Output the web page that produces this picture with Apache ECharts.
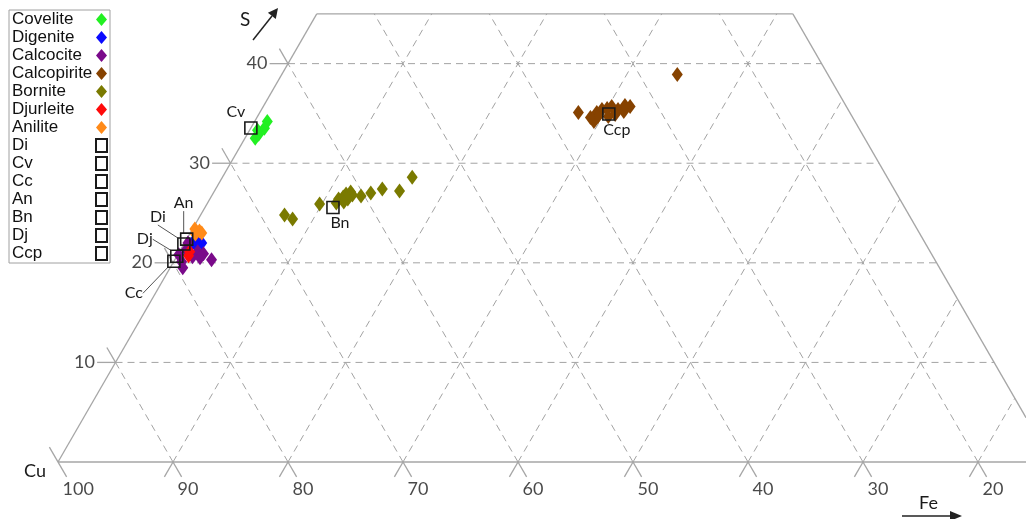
<!DOCTYPE html>
<html><head><meta charset="utf-8">
<script src="https://cdn.jsdelivr.net/npm/echarts@6/dist/echarts.min.js"></script>
<style>html,body{margin:0;padding:0;background:#fff}#c{width:1026px;height:519px}</style>
</head><body><div id="c"></div>
<script>
// ---------- DATA (wt%, each point = [Fe, S]; Cu = 100 - Fe - S) ----------
const covelite    = [[1.1,34.2],[1.2,33.5],[1.0,32.9],[0.9,32.5],[0.7,33.3]];
const digenite    = [[1.1,22.1],[0.7,22.0],[1.5,22.0],[1.1,21.8]];
const calcocite   = [[0.1,20.8],[1.6,21.1],[2.2,20.9],[3.2,20.3],[1.4,20.6],[1.1,19.5],[0.5,21.3],[0.7,20.1],[2.1,20.5],[0.3,22.0]];
const calcopirite = [[27.7,35.1],[34.4,38.9],[29.3,35.1],[29.6,35.4],[30.0,35.5],[30.3,35.7],[31.0,35.4],[31.6,35.2],[31.9,35.7],[29.5,34.2],[29.6,34.7],[31.0,34.9],[30.5,34.7],[31.4,35.8],[29.0,34.6]];
const bornite     = [[7.3,24.8],[8.2,24.4],[9.8,25.9],[11.2,26.4],[11.5,26.6],[11.6,26.9],[11.9,27.1],[12.2,26.8],[12.0,26.4],[11.8,26.1],[11.2,26.0],[13.0,26.7],[13.7,27.0],[14.5,27.4],[16.1,27.2],[16.5,28.6]];
const djurleite   = [[1.0,20.7],[0.9,21.1]];
const anilite     = [[0.2,23.4],[0.7,23.2],[0.5,22.9],[1.0,23.0]];
const mineralNames = ['Covelite','Digenite','Calcocite','Calcopirite','Bornite','Djurleite','Anilite'];
const mineralData  = [covelite, digenite, calcocite, calcopirite, bornite, djurleite, anilite];

// ideal compositions (reference squares)
const refNames = ['Di','Cv','Cc','An','Bn','Dj','Ccp'];
const refFe    = [0, 0, 0, 0, 11.13, 0, 30.43];
const refS     = [21.89, 33.54, 20.15, 22.38, 25.56, 20.66, 34.94];

// tick labels
const cuTicks = [100,90,80,70,60,50,40,30,20];
const sTicks  = [10,20,30,40];

// ---------- STYLE / LAYOUT ----------
const mineralColors = ['#22f022','#0a0aff','#7a0a8a','#864200','#7a7a00','#ff0a0a','#ff8a18'];
const refLabelLayout = {
  Di:{dx:-26,dy:-27,line:true}, Cv:{dx:-15,dy:-16,line:false}, Cc:{dx:-40,dy:32,line:true},
  An:{dx:-3,dy:-36,line:true}, Bn:{dx:7,dy:15,line:false}, Dj:{dx:-32,dy:-17,line:true},
  Ccp:{dx:8,dy:16,line:false}
};
const PXU = 11.5;                     // px per 1 wt% along a side
const VU  = PXU*Math.sqrt(3)/2;       // px per 1 wt% S vertically
const W=1026, H=519, OX=58, OY=462;   // Cu vertex position
const S_TOP = 45, CU_RIGHT = 13.6;    // truncation of the diagram
const X_MIN = -OX/PXU, X_MAX = (W-OX)/PXU, Y_MIN = -(H-OY)/VU, Y_MAX = OY/VU;
const xy = (fe, s) => [fe + s/2, s];
const RC = 100 - CU_RIGHT;            // Fe + S on the right boundary line

// ---------- structure lines ----------
const solidSegs = [
  [xy(0,0), [X_MAX,0]],
  [xy(0,0), xy(0,S_TOP)],
  [xy(0,S_TOP), xy(RC-S_TOP,S_TOP)],
  [xy(RC-S_TOP,S_TOP), [X_MAX, 2*(RC-X_MAX)]]
];
const dashSegs = [];
cuTicks.forEach(c => {
  const fe = 100 - c;
  if (c === 100) { solidSegs.push([[-0.75,1.5],[0.75,-1.5]]); return; }
  solidSegs.push([[fe,0],[fe-0.75,-1.5]]);
  solidSegs.push([[fe,0],[fe+0.75,-1.5]]);
  const sEndFe = Math.min(S_TOP, RC - fe);
  dashSegs.push([xy(fe,0), xy(fe,sEndFe)]);
  const sEndCu = Math.min(S_TOP, 100 - c);
  dashSegs.push([xy(fe,0), xy(100-c-sEndCu, sEndCu)]);
});
sTicks.forEach(s => {
  solidSegs.push([[s/2-1.6, s], xy(0,s)]);
  solidSegs.push([xy(0,s), [s/2-0.75, s+1.5]]);
  dashSegs.push([xy(0,s), [RC - s/2, s]]);
});

const series = [];
solidSegs.forEach(p => series.push({type:'line', data:p, symbol:'none', silent:true, z:1,
  lineStyle:{color:'#a6a6a6', width:1.3}}));
dashSegs.forEach(p => series.push({type:'line', data:p, symbol:'none', silent:true, z:1,
  lineStyle:{color:'#a3a3a3', width:1, type:[7,5]}}));

// tick labels through the same scales
series.push({type:'scatter', silent:true, z:2, symbolSize:1, itemStyle:{color:'rgba(0,0,0,0)'},
  data: cuTicks.map(c => [100-c, 0, c]),
  label:{show:true, formatter:p=>String(p.value[2]), position:[5,19], align:'left', verticalAlign:'top',
    fontFamily:'Lato', fontSize:18, color:'#1a1a1a'}});
series.push({type:'scatter', silent:true, z:2, symbolSize:1, itemStyle:{color:'rgba(0,0,0,0)'},
  data: sTicks.map(s => [s/2, s, s]),
  label:{show:true, formatter:p=>String(p.value[2]), position:[-20,0], align:'right', verticalAlign:'middle',
    fontFamily:'Lato', fontSize:18, color:'#1a1a1a'}});

mineralNames.forEach((n,i) => series.push({
  name:n, type:'scatter', z:3, symbol:'diamond', symbolSize:[11,15],
  itemStyle:{color:mineralColors[i], opacity:1},
  data: mineralData[i].map(d => xy(d[0], d[1]))
}));

refNames.forEach((n,i) => {
  const L = refLabelLayout[n];
  series.push({
    name:n, type:'scatter', z:5, symbol:'rect', symbolSize:12,
    itemStyle:{color:'rgba(255,255,255,0)', borderColor:'#1a1a1a', borderWidth:1.6, opacity:1},
    data:[xy(refFe[i], refS[i])],
    label:{show:true, formatter:n, position:'inside', fontFamily:'Lato', fontSize:16, color:'#1a1a1a'},
    labelLayout:{dx:L.dx, dy:L.dy},
    labelLine:{show:L.line, lineStyle:{color:'#555', width:1}}
  });
});

const chart = echarts.init(document.getElementById('c'), null, {renderer:'canvas'});
chart.setOption({
  animation:false,
  backgroundColor:'#fff',
  grid:{left:0, right:0, top:0, bottom:0},
  xAxis:{type:'value', min:X_MIN, max:X_MAX, show:false},
  yAxis:{type:'value', min:Y_MIN, max:Y_MAX, show:false},
  legend:{
    data:[...mineralNames, ...refNames], orient:'vertical', left:9, top:10, align:'right',
    itemWidth:11, itemHeight:13, itemGap:1, padding:[1,2,1,3],
    borderColor:'#a0a0a0', borderWidth:1, backgroundColor:'#fff', selectedMode:false,
    formatter: n => '{a|' + n + '}',
    textStyle:{fontFamily:'Liberation Sans', fontSize:17, color:'#111',
      rich:{a:{width:79, align:'left', fontFamily:'Liberation Sans', fontSize:17, lineHeight:17, color:'#111'}}}
  },
  graphic:[
    {type:'text', left:24, top:462, style:{text:'Cu', font:'18px Lato', fill:'#1a1a1a'}},
    {type:'text', left:240, top:10, style:{text:'S', font:'19px Lato', fill:'#1a1a1a'}},
    {type:'line', shape:{x1:253,y1:40,x2:272,y2:16}, style:{stroke:'#222', lineWidth:1.5}},
    {type:'polygon', shape:{points:[[278,8],[275.8,19],[267.9,12.8]]}, style:{fill:'#222'}},
    {type:'text', left:919, top:494, style:{text:'Fe', font:'18px Lato', fill:'#1a1a1a'}},
    {type:'line', shape:{x1:902,y1:516,x2:953,y2:516}, style:{stroke:'#222', lineWidth:1.5}},
    {type:'polygon', shape:{points:[[962,516],[950,511],[950,521]]}, style:{fill:'#222'}}
  ],
  series: series
});
</script></body></html>
